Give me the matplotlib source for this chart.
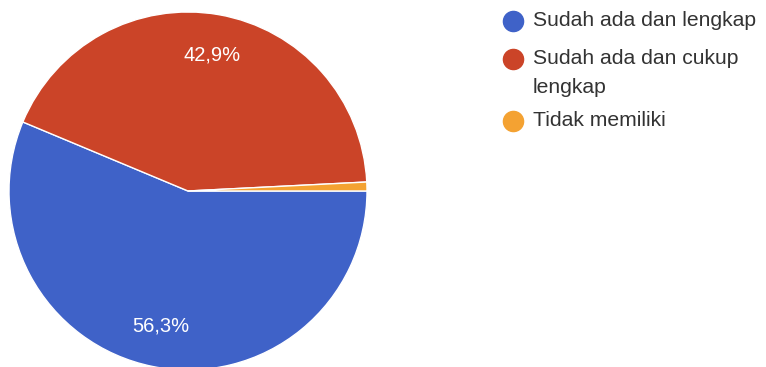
import matplotlib

matplotlib.use("Agg")
import matplotlib.pyplot as plt

# data
labels = ["Sudah ada dan lengkap", "Sudah ada dan cukup\nlengkap", "Tidak memiliki"]
values = [56.3, 42.9, 0.8]
colors = ["#3f62c8", "#cb4428", "#f4a232"]

W, H = 766, 367
fig = plt.figure(figsize=(W / 100, H / 100), dpi=100)
fig.patch.set_facecolor("white")

# pie axes, placed in pixels: center (188, 191), radius 179
cx, cy, r = 188, 191, 179
ax = fig.add_axes([(cx - r) / W, (H - cy - r) / H, 2 * r / W, 2 * r / H])


def fmt(p):
    return f"{p:.1f}%".replace(".", ",") if p > 5 else ""


wedges, texts, autotexts = ax.pie(
    values, colors=colors, startangle=0, counterclock=False,
    autopct=fmt, pctdistance=0.77,
    wedgeprops=dict(edgecolor="white", linewidth=1.0),
    textprops=dict(color="white", fontsize=14.5, family="Liberation Sans"),
)
ax.set_xlim(-1, 1)
ax.set_ylim(-1, 1)
ax.set_aspect("equal")

# legend drawn in pixel coords
lax = fig.add_axes([0, 0, 1, 1], facecolor="none")
lax.set_xlim(0, W)
lax.set_ylim(H, 0)
lax.axis("off")
row_y = [21, 59, 121]
for lab, col, y in zip(labels, colors, row_y):
    lax.plot(513, y, "o", ms=14.5, color=col, mec=col)
    lax.text(533, y - 10, lab, fontsize=15.2, color="#333333",
             family="Liberation Sans", va="top", ha="left", linespacing=1.65)

fig.savefig("out.png", dpi=100)
